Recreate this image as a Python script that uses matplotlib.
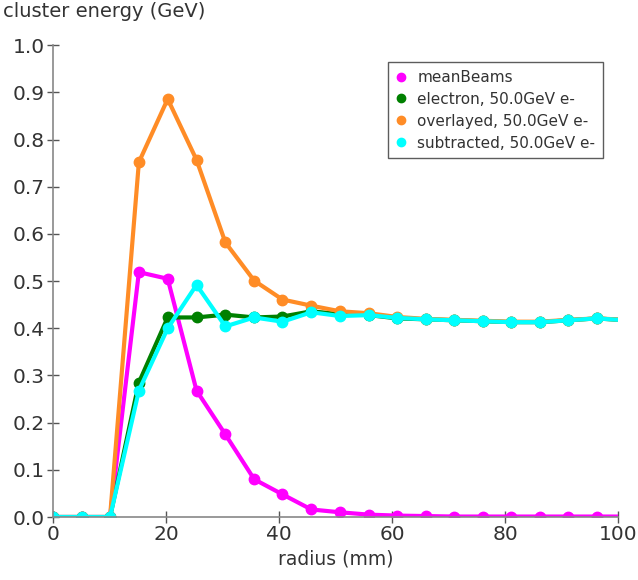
import matplotlib
matplotlib.use("Agg")
import matplotlib.pyplot as plt

radius = [0, 5.1, 10.1, 15.2, 20.3, 25.4, 30.5, 35.6, 40.6, 45.7, 50.8, 55.9,
          60.9, 66.0, 71.0, 76.1, 81.1, 86.2, 91.2, 96.2, 101.3]

mean_beams = [0, 0, 0, 0.519, 0.505, 0.268, 0.175, 0.080, 0.048, 0.016, 0.010,
              0.005, 0.003, 0.002, 0.001, 0.001, 0.001, 0.001, 0.001, 0.001, 0.001]
electron = [0, 0, 0, 0.285, 0.423, 0.423, 0.429, 0.423, 0.425, 0.436, 0.430,
            0.428, 0.421, 0.419, 0.417, 0.415, 0.413, 0.413, 0.417, 0.421, 0.417]
overlayed = [0, 0, 0, 0.752, 0.886, 0.757, 0.582, 0.501, 0.461, 0.448, 0.436,
             0.432, 0.424, 0.420, 0.418, 0.416, 0.414, 0.414, 0.418, 0.421, 0.418]
subtracted = [0, 0, 0, 0.268, 0.400, 0.492, 0.404, 0.423, 0.414, 0.434, 0.426,
              0.428, 0.422, 0.419, 0.417, 0.415, 0.413, 0.413, 0.417, 0.421, 0.417]

series = [
    ("meanBeams", mean_beams, "#ff00ff"),
    ("electron, 50.0GeV e-", electron, "#008000"),
    ("overlayed, 50.0GeV e-", overlayed, "#ff8c26"),
    ("subtracted, 50.0GeV e-", subtracted, "#00ffff"),
]

plt.rcParams['font.family'] = ['DejaVu Sans']
fig = plt.figure(figsize=(6.38, 5.8), dpi=100)
ax = fig.add_axes([0.083, 0.1086, 0.886, 0.8134])

for name, vals, col in series:
    ax.plot(radius, vals, color=col, lw=3.0, marker='o', ms=7.5,
            label=name, clip_on=True)

ax.set_xlim(0, 100)
ax.set_ylim(0, 1.0)
ax.set_xticks([0, 20, 40, 60, 80, 100])
ax.set_yticks([0.0, 0.1, 0.2, 0.3, 0.4, 0.5, 0.6, 0.7, 0.8, 0.9, 1.0])
ax.set_yticklabels([f"{v:.1f}" for v in ax.get_yticks()])
for s in ['top', 'right']:
    ax.spines[s].set_visible(False)
for s in ['left', 'bottom']:
    ax.spines[s].set_color('#888888')
    ax.spines[s].set_linewidth(1.2)
ax.tick_params(direction='inout', length=8, width=1, colors='#555555',
               labelsize=14.5, labelcolor='#333333', pad=2)
ax.set_xlabel("radius (mm)", fontsize=13.5, color='#333333', labelpad=4)
title = fig.text(0.005, 0.997, "cluster energy (GeV)", fontsize=14, color='#333333',
                 ha='left', va='top')

leg = ax.legend(loc='upper left', bbox_to_anchor=(0.58, 0.98), fontsize=11,
                frameon=True, fancybox=False, handlelength=0.6, handletextpad=0.8,
                borderpad=0.5, labelspacing=0.45, markerscale=0.8)
leg.get_frame().set_edgecolor('#333333')
leg.get_frame().set_linewidth(1.0)
for h in leg.legend_handles:
    h.set_linestyle('None')
for t in leg.get_texts():
    t.set_color('#333333')

fig.savefig("out.png", dpi=100)
